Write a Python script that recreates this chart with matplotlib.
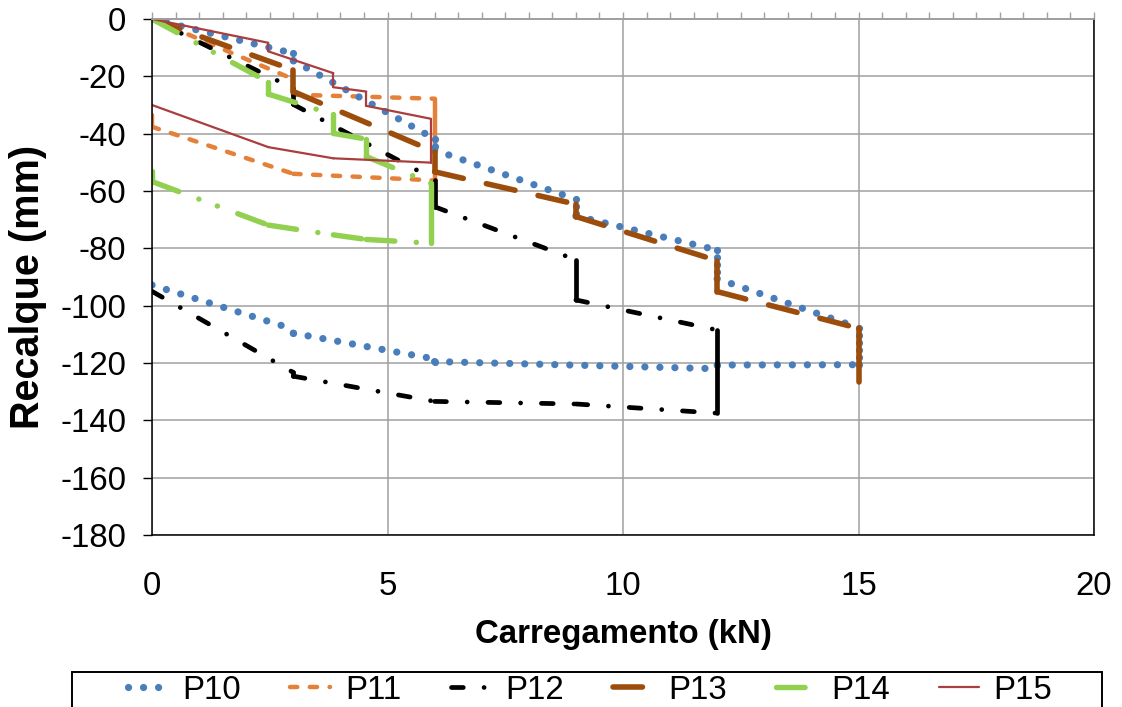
import numpy as np
import matplotlib
matplotlib.use("Agg")
import matplotlib.pyplot as plt
from matplotlib.lines import Line2D
from matplotlib.patches import Rectangle

# ---------------- data (load kN, settlement mm) ----------------
series_names = ["P10", "P11", "P12", "P13", "P14", "P15"]

p10_load = [0, 3, 3, 6, 6, 9, 9, 12, 12, 15, 15, 12, 12, 6, 6, 3, 3, 0]
p10_settle = [0, -12.0, -14.5, -41.8, -45.7, -62.9, -68.7, -80.6, -90.6, -107.7,
              -120.6, -120.7, -122.0, -119.5, -118.6, -109.6, -108.2, -92.8]

p11_load = [0, 3, 3, 6, 6, 3, 0, 0]
p11_settle = [0, -21.0, -26.4, -27.8, -56.3, -54.0, -37.6, -33.5]

p12_load = [0, 3, 3, 6, 6, 9, 9, 12, 12, 9, 6, 3, 3, 0]
p12_settle = [0, -24.2, -29.8, -56.0, -65.5, -84.0, -98.0, -108.5, -137.5,
              -134.3, -133.4, -124.6, -123.3, -95.0]

p13_load = [0, 3, 3, 6, 6, 9, 9, 12, 12, 15, 15]
p13_settle = [0, -17.8, -25.3, -46.3, -53.3, -64.6, -68.9, -84.3, -95.1, -107.9, -126.5]

p14_load = [0, 2.47, 2.47, 3.85, 3.85, 4.55, 4.55, 5.92, 5.92, 4.55, 3.85, 2.47, 0, 0]
p14_settle = [0, -22.0, -26.2, -33.3, -39.9, -41.9, -48.0, -57.3, -78.2, -76.9,
              -75.3, -71.9, -56.7, -53.0]

p15_load = [0, 2.47, 2.47, 3.85, 3.85, 4.55, 4.55, 5.92, 5.92, 3.85, 2.47, 0]
p15_settle = [0, -8.3, -11.3, -18.9, -23.8, -25.3, -30.3, -34.8, -50.1, -48.6, -44.7, -30.0]

x_ticks = [0, 5, 10, 15, 20]
y_ticks = [0, -20, -40, -60, -80, -100, -120, -140, -160, -180]
x_label = "Carregamento (kN)"
y_label = "Recalque (mm)"

# ---------------- styles ----------------
styles = {
    "P10": dict(color="#4A7EBB", lw=5.2, dashes=(0.01, 2.07), vdashes=(0.01, 1.0), z=2.1),
    "P11": dict(color="#E5803A", lw=3.2, dashes=(1.64, 2.81), vdashes=None, z=2.0),
    "P12": dict(color="black", lw=3.4, dashes=(2.5, 4.4, 0.01, 4.4), vdashes=None, z=2.2),
    "P13": dict(color="#9C4D0C", lw=4.0, dashes=(5.3, 4.25), vdashes=None, z=2.3),
    "P14": dict(color="#92D050", lw=3.9, dashes=(5.27, 3.97, 0.01, 3.63, 0.01, 4.02), vdashes=None, z=2.4),
    "P15": dict(color="#AA3E3E", lw=1.6, dashes=None, vdashes=None, z=2.5),
}

data = {
    "P10": (p10_load, p10_settle),
    "P11": (p11_load, p11_settle),
    "P12": (p12_load, p12_settle),
    "P13": (p13_load, p13_settle),
    "P14": (p14_load, p14_settle),
    "P15": (p15_load, p15_settle),
}

plt.rcParams["font.family"] = ["Liberation Sans", "DejaVu Sans"]
FS = 23.8

W, H = 1122, 707
fig = plt.figure(figsize=(W / 100, H / 100), dpi=100)
ax = fig.add_axes([152 / W, 1 - 535 / H, (1094 - 152) / W, (535 - 19) / H])
ax.set_xlim(0, 20)
ax.set_ylim(-180, 0)


def draw_segment(xa, ya, xb, yb, st):
    # each segment restarts its dash pattern from its left end (as in the source)
    if xb < xa:
        xa, ya, xb, yb = xb, yb, xa, ya
    vertical = xa == xb
    pat = st["vdashes"] if vertical else st["dashes"]
    ln, = ax.plot([xa, xb], [ya, yb], color=st["color"], lw=st["lw"],
                  solid_capstyle="round", dash_capstyle="round",
                  solid_joinstyle="round", zorder=st["z"])
    if pat is not None:
        ln.set_dashes(pat)
    return ln


for name in series_names:
    xs, ys = data[name]
    st = styles[name]
    for i in range(len(xs) - 1):
        draw_segment(xs[i], ys[i], xs[i + 1], ys[i + 1], st)

# ---------------- axes styling ----------------
grid_c = "#A0A0A0"
ax.set_xticks(x_ticks)
ax.set_yticks(y_ticks)
ax.grid(True, color=grid_c, lw=1.1, zorder=0)
ax.set_axisbelow(True)

for s in ["left", "right", "bottom"]:
    ax.spines[s].set_color("black")
    ax.spines[s].set_linewidth(1.1)
ax.spines["top"].set_color(grid_c)
ax.spines["top"].set_linewidth(1.3)

ax.tick_params(axis="x", which="both", bottom=False, top=False, length=0,
               pad=26, labelsize=FS)
ax.tick_params(axis="y", which="both", left=True, right=False, direction="out",
               length=6.5, width=1.0, color="black", pad=12, labelsize=FS)
ax.set_xticklabels([str(v) for v in x_ticks])
ax.set_yticklabels([str(v) for v in y_ticks])

sec = ax.secondary_xaxis("top")
sec.set_xticks(np.arange(0, 20.01, 0.5))
sec.tick_params(axis="x", direction="out", length=5, width=1.0, color=grid_c,
                labeltop=False)
sec.spines["top"].set_color(grid_c)
sec.spines["top"].set_linewidth(1.3)

fig.text(623 / W, 1 - 634 / H, x_label, ha="center", va="center",
         fontsize=FS, fontweight="bold")
fig.text(28 / W, 1 - 287 / H, y_label, ha="center", va="center",
         fontsize=28.5, fontweight="bold", rotation=90)

# ---------------- legend ----------------
handles = []
for name in series_names:
    st = styles[name]
    h = Line2D([0], [0], color=st["color"], lw=st["lw"],
               solid_capstyle="round", dash_capstyle="round")
    if st["dashes"] is not None:
        h.set_dashes(st["dashes"])
    handles.append(h)

fig.legend(handles, series_names, loc="upper center",
           bbox_to_anchor=(590 / W, 1 - 675 / H), ncol=6, frameon=False,
           handlelength=1.2, handletextpad=0.45, columnspacing=1.5,
           fontsize=FS, borderpad=0, borderaxespad=0)
fig.add_artist(Rectangle((72 / W, -0.05), (1102 - 72) / W, (1 - 672 / H) + 0.05,
                         transform=fig.transFigure, fill=False,
                         edgecolor="black", lw=1.4))

fig.savefig("out.png", dpi=100)
